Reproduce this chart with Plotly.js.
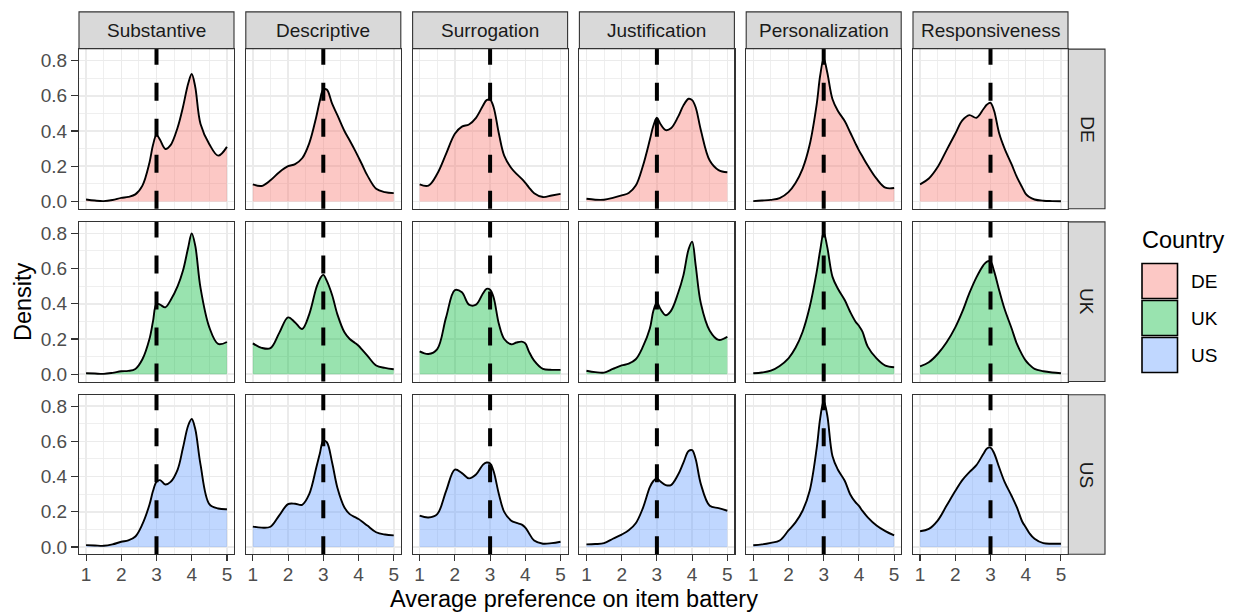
<!DOCTYPE html>
<html>
<head>
<meta charset="utf-8">
<script src="https://cdn.plot.ly/plotly-3.0.1.min.js"></script>
<style>html,body{margin:0;padding:0;background:#fff;}#chart{width:1233px;height:612px;}</style>
</head>
<body>
<div id="chart"></div>
<script>
// ---- data ----
const xGrid = [1, 1.25, 1.5, 1.75, 2, 2.2, 2.4, 2.6, 2.8, 2.9, 3, 3.1, 3.25, 3.4, 3.6, 3.75, 3.9, 4, 4.1, 4.25, 4.5, 4.75, 5];
const batteries = ["Substantive", "Descriptive", "Surrogation", "Justification", "Personalization", "Responsiveness"];
const countries = ["DE", "UK", "US"];
const refLine = 3;

const deSubstantive     = [0.011,0.005,0.002,0.008,0.020,0.026,0.040,0.090,0.220,0.320,0.378,0.350,0.298,0.320,0.420,0.535,0.670,0.724,0.650,0.440,0.325,0.260,0.310];
const deDescriptive     = [0.097,0.088,0.120,0.166,0.200,0.212,0.245,0.330,0.480,0.570,0.635,0.635,0.555,0.490,0.400,0.346,0.290,0.250,0.210,0.148,0.072,0.053,0.047];
const deSurrogation     = [0.097,0.090,0.157,0.270,0.384,0.425,0.437,0.475,0.545,0.575,0.578,0.535,0.384,0.260,0.190,0.157,0.128,0.105,0.080,0.047,0.025,0.034,0.043];
const deJustification   = [0.015,0.010,0.010,0.020,0.034,0.048,0.090,0.200,0.350,0.430,0.475,0.440,0.405,0.415,0.480,0.544,0.583,0.575,0.535,0.403,0.232,0.178,0.166];
const dePersonalization = [0.002,0.005,0.009,0.019,0.053,0.105,0.185,0.320,0.550,0.715,0.810,0.734,0.580,0.515,0.455,0.393,0.330,0.290,0.255,0.204,0.129,0.078,0.076];
const deResponsiveness  = [0.097,0.130,0.195,0.290,0.384,0.460,0.490,0.475,0.525,0.550,0.560,0.516,0.384,0.300,0.210,0.138,0.080,0.043,0.025,0.011,0.004,0.002,0.001];

const ukSubstantive     = [0.006,0.004,0.002,0.008,0.017,0.019,0.030,0.085,0.200,0.300,0.400,0.395,0.380,0.420,0.500,0.587,0.720,0.800,0.730,0.490,0.266,0.172,0.183];
const ukDescriptive     = [0.175,0.150,0.148,0.235,0.323,0.294,0.257,0.340,0.490,0.540,0.564,0.530,0.450,0.340,0.238,0.200,0.178,0.162,0.140,0.106,0.050,0.036,0.028];
const ukSurrogation     = [0.130,0.115,0.143,0.323,0.478,0.465,0.395,0.395,0.460,0.485,0.480,0.436,0.285,0.200,0.170,0.180,0.185,0.175,0.130,0.077,0.030,0.025,0.025];
const ukJustification   = [0.020,0.012,0.009,0.030,0.050,0.060,0.085,0.155,0.260,0.360,0.408,0.370,0.335,0.360,0.460,0.560,0.710,0.753,0.620,0.400,0.247,0.195,0.213];
const ukPersonalization = [0.006,0.010,0.020,0.047,0.090,0.150,0.240,0.380,0.580,0.704,0.805,0.723,0.553,0.487,0.420,0.355,0.300,0.275,0.242,0.157,0.090,0.049,0.040];
const ukResponsiveness  = [0.045,0.068,0.115,0.180,0.266,0.355,0.460,0.550,0.620,0.640,0.640,0.587,0.474,0.370,0.260,0.172,0.110,0.077,0.055,0.030,0.017,0.010,0.006];

const usSubstantive     = [0.011,0.009,0.007,0.015,0.030,0.038,0.060,0.130,0.240,0.318,0.370,0.380,0.355,0.370,0.440,0.562,0.690,0.727,0.670,0.468,0.244,0.219,0.215];
const usDescriptive     = [0.116,0.110,0.115,0.180,0.244,0.246,0.240,0.300,0.450,0.530,0.603,0.595,0.480,0.337,0.225,0.187,0.170,0.159,0.145,0.122,0.084,0.071,0.066];
const usSurrogation     = [0.178,0.168,0.187,0.318,0.440,0.420,0.390,0.412,0.468,0.480,0.475,0.430,0.300,0.200,0.150,0.137,0.127,0.110,0.080,0.037,0.019,0.022,0.030];
const usJustification   = [0.015,0.017,0.022,0.047,0.071,0.095,0.135,0.220,0.340,0.375,0.390,0.372,0.352,0.352,0.410,0.478,0.545,0.550,0.500,0.356,0.234,0.221,0.206];
const usPersonalization = [0.010,0.015,0.024,0.037,0.094,0.140,0.206,0.318,0.560,0.731,0.830,0.750,0.515,0.440,0.375,0.300,0.255,0.234,0.205,0.169,0.122,0.090,0.066];
const usResponsiveness  = [0.090,0.103,0.150,0.234,0.318,0.380,0.425,0.465,0.530,0.560,0.565,0.534,0.450,0.370,0.290,0.225,0.145,0.112,0.080,0.047,0.022,0.019,0.019];

const densities = {
  DE: [deSubstantive, deDescriptive, deSurrogation, deJustification, dePersonalization, deResponsiveness],
  UK: [ukSubstantive, ukDescriptive, ukSurrogation, ukJustification, ukPersonalization, ukResponsiveness],
  US: [usSubstantive, usDescriptive, usSurrogation, usJustification, usPersonalization, usResponsiveness]
};
const xTicks = [1, 2, 3, 4, 5];
const yTicks = [0, 0.2, 0.4, 0.6, 0.8];

// ---- styling / geometry ----
const W = 1233, H = 612;
const fills = {DE: "rgba(248,118,109,0.4)", UK: "rgba(0,186,56,0.4)", US: "rgba(97,156,255,0.4)"};
const colLeft = [79, 245.8, 412.6, 579.4, 746.2, 913];
const panelW = 155;
const rowTop = [49.1, 221.9, 394.7];
const panelH = 159.6;
const FONT = "Liberation Sans, Arial, Helvetica, sans-serif";
const px = v => v / W;
const py = v => 1 - v / H;

const traces = [];
const layout = {
  width: W, height: H,
  margin: {l: 0, r: 0, t: 0, b: 0},
  paper_bgcolor: "#fff", plot_bgcolor: "#fff",
  showlegend: false,
  font: {family: FONT},
  shapes: [], annotations: []
};

let n = 0;
countries.forEach((c, r) => {
  batteries.forEach((b, k) => {
    n += 1;
    const sx = n === 1 ? "" : String(n);
    traces.push({
      type: "scatter", mode: "lines",
      x: xGrid, y: densities[c][k],
      xaxis: "x" + sx, yaxis: "y" + sx,
      line: {color: "#000", width: 1.9, shape: "spline", smoothing: 1},
      fill: "tozeroy", fillcolor: fills[c],
      hoverinfo: "skip"
    });
    const bottom = r === countries.length - 1;
    const left = k === 0;
    const common = {
      showline: true, mirror: true, linecolor: "#333333", linewidth: 1.1,
      zeroline: false, showgrid: true, gridcolor: "#EBEBEB", gridwidth: 1.5,
      tickcolor: "#333333", tickwidth: 1.1, ticklen: 6,
      tickfont: {family: FONT, size: 19, color: "#4D4D4D"},
      fixedrange: true
    };
    layout["xaxis" + sx] = Object.assign({}, common, {
      domain: [px(colLeft[k]), px(colLeft[k] + panelW)],
      range: [0.8, 5.2], tickmode: "array", tickvals: xTicks, ticktext: xTicks.map(String),
      minor: {tickmode: "array", tickvals: [1.5, 2.5, 3.5, 4.5], showgrid: true, gridcolor: "#EBEBEB", gridwidth: 0.8, ticks: ""},
      anchor: "y" + sx, ticklabelstandoff: -3,
      ticks: bottom ? "outside" : "", showticklabels: bottom
    });
    layout["yaxis" + sx] = Object.assign({}, common, {
      domain: [py(rowTop[r] + panelH), py(rowTop[r])],
      range: [-0.0412, 0.865], tickmode: "array", tickvals: yTicks, ticktext: yTicks.map(v => v.toFixed(1)),
      minor: {tickmode: "array", tickvals: [0.1, 0.3, 0.5, 0.7], showgrid: true, gridcolor: "#EBEBEB", gridwidth: 0.8, ticks: ""},
      anchor: "x" + sx,
      ticks: left ? "outside" : "", showticklabels: left, ticklen: 7
    });
    layout.shapes.push({
      type: "line", layer: "above",
      xref: "x" + sx, x0: refLine, x1: refLine,
      yref: "y" + sx + " domain", y0: 0, y1: 1,
      line: {color: "#000", width: 4, dash: "18px,18px"}
    });
  });
});

function label(x, y, text, size, color, opts) {
  return Object.assign({xref: "paper", yref: "paper", x: x, y: y, xanchor: "center", yanchor: "middle",
    text: text, showarrow: false, font: {family: FONT, size: size, color: color}}, opts || {});
}

// top strips
batteries.forEach((b, k) => {
  layout.shapes.push({type: "rect", xref: "paper", yref: "paper", layer: "above",
    x0: px(colLeft[k]), x1: px(colLeft[k] + panelW), y0: py(48.6), y1: py(11.9),
    fillcolor: "#D9D9D9", line: {color: "#333333", width: 1.1}});
  layout.annotations.push(label(px(colLeft[k] + panelW / 2), py(30.5), b, 19, "#1A1A1A"));
});
// right strips
countries.forEach((c, r) => {
  layout.shapes.push({type: "rect", xref: "paper", yref: "paper", layer: "above",
    x0: px(1068.3), x1: px(1105), y0: py(rowTop[r] + panelH), y1: py(rowTop[r]),
    fillcolor: "#D9D9D9", line: {color: "#333333", width: 1.1}});
  layout.annotations.push(label(px(1086.7), py(rowTop[r] + panelH / 2), c, 19, "#1A1A1A", {textangle: 90}));
});
// axis titles
layout.annotations.push(label(px(573.5), py(598.5), "Average preference on item battery", 23.5, "#000"));
layout.annotations.push(label(px(22.5), py(301.5), "Density", 23.5, "#000", {textangle: -90}));
// legend
layout.annotations.push(label(px(1139.5), py(240.5), "Country", 23.5, "#000", {xanchor: "left"}));
const keyTop = [263.5, 300.5, 337.5];
countries.forEach((c, i) => {
  layout.shapes.push({type: "rect", xref: "paper", yref: "paper", layer: "above",
    x0: px(1142), x1: px(1177.5), y0: py(keyTop[i] + 35), y1: py(keyTop[i]),
    fillcolor: fills[c], line: {color: "#000", width: 1.6}});
  layout.annotations.push(label(px(1188.5), py(keyTop[i] + 18), c, 19, "#000", {xanchor: "left"}));
});

Plotly.newPlot("chart", traces, layout, {staticPlot: true, displayModeBar: false});
</script>
</body>
</html>
